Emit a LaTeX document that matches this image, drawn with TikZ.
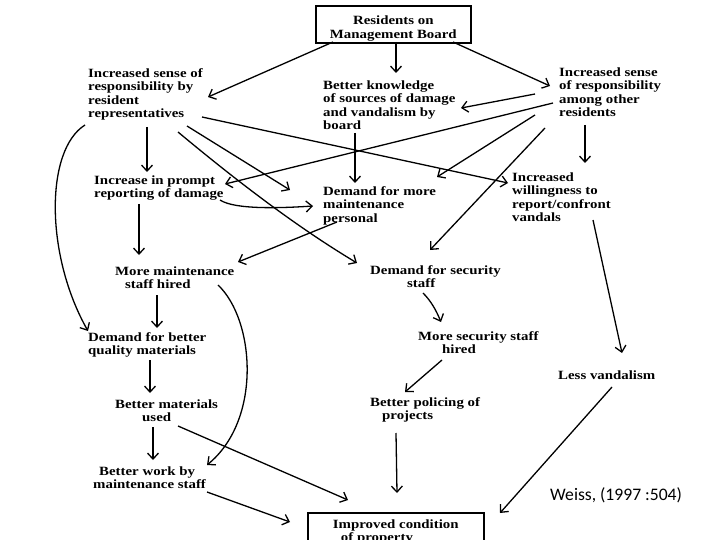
\documentclass[tikz,border=0pt]{standalone}
\usepackage{fontspec}
\newfontfamily\reffont[FakeStretch=1.18]{Liberation Serif}
\newfontfamily\citefont{Carlito}
\usetikzlibrary{arrows.meta,calc}
\begin{document}
\begin{tikzpicture}[x=1pt,y=-1pt,
  lbl/.style={font=\reffont\fontsize{12.6}{13.3}\selectfont\bfseries, align=left, inner sep=0pt, anchor=north west},
  arr/.style={line width=1.3pt, -{Straight Barb[length=6pt,width=11pt]}},
  boxed/.style={draw, line width=1.6pt}]
\useasboundingbox (0,0) rectangle (720,540);
% nodes (placed by north west corner, pixel coordinates)
\node[lbl, boxed, minimum width=155pt, minimum height=37pt, align=center] (board) at (315,5)
  {\raisebox{-4.5pt}[\height][\depth]{\begin{tabular}{@{}c@{}}Residents on\\Management Board\end{tabular}}};
\node[lbl] (A) at (88,68.5) {Increased sense of\\responsibility by\\resident\\representatives};
\node[lbl] (B) at (323,80.5) {Better knowledge\\of sources of damage\\and vandalism by\\board};
\node[lbl] (C) at (559,67.5) {Increased sense\\of responsibility\\among other\\residents};
\node[lbl] (D) at (94,175.5) {Increase in prompt\\reporting of damage};
\node[lbl] (E) at (323,186.5) {Demand for more\\maintenance\\personal};
\node[lbl] (F) at (512,172.5) {Increased\\willingness to\\report/confront\\vandals};
\node[lbl] (G) at (115,266.5) {More maintenance\\\hspace*{10pt}staff hired};
\node[lbl] (H) at (370,265.5) {Demand for security\\\hspace*{37pt}staff};
\node[lbl] (I) at (88,332.5) {Demand for better\\quality materials};
\node[lbl] (J) at (418,331.5) {More security staff\\\hspace*{24pt}hired};
\node[lbl] (K) at (558,370.5) {Less vandalism};
\node[lbl] (L) at (115,399.5) {Better materials\\\hspace*{27pt}used};
\node[lbl] (M) at (370,397.5) {Better policing of\\\hspace*{12pt}projects};
\node[lbl] (N) at (93,466.5) {\hspace*{6pt}Better work by\\maintenance staff};
\node[lbl, boxed, minimum width=176pt, inner xsep=0pt, inner ysep=6.5pt] (O) at (307,512) {Improved condition\\\hspace*{8pt}of property};
\node[font=\citefont\fontsize{17.6}{20}\selectfont, anchor=west, inner sep=0pt] (cite) at (550,495) {Weiss, (1997 :504)};
% connectors
\draw[arr] ([shift={(333-315,42-5)}]board.north west) -- ([shift={(208-88,97-68.5)}]A.north west);
\draw[arr] ([shift={(396-315,42-5)}]board.north west) -- ([shift={(396-323,73-80.5)}]B.north west);
\draw[arr] ([shift={(453-315,42-5)}]board.north west) -- ([shift={(550-559,86-67.5)}]C.north west);
\draw[arr] ([shift={(535-559,94-67.5)}]C.north west) -- ([shift={(461-323,108-80.5)}]B.north west);
\draw[arr] ([shift={(553-559,103-67.5)}]C.north west) -- ([shift={(225-94,184-175.5)}]D.north west);
\draw[arr] ([shift={(535-559,115-67.5)}]C.north west) -- ([shift={(437-323,177-186.5)}]E.north west);
\draw[arr] ([shift={(545-559,128-67.5)}]C.north west) -- ([shift={(430-370,250-265.5)}]H.north west);
\draw[arr] ([shift={(585-559,125-67.5)}]C.north west) -- ([shift={(585-512,163-172.5)}]F.north west);
\draw[arr] ([shift={(147-88,127-68.5)}]A.north west) -- ([shift={(147-94,172-175.5)}]D.north west);
\draw[arr] ([shift={(187-88,126-68.5)}]A.north west) -- ([shift={(290-323,190-186.5)}]E.north west);
\draw[arr] ([shift={(178-88,132-68.5)}]A.north west) .. controls +(60,50) and +(-60,-36) .. ([shift={(357-370,263-265.5)}]H.north west);
\draw[arr] ([shift={(202-88,117-68.5)}]A.north west) -- ([shift={(508-512,183-172.5)}]F.north west);
\draw[arr] ([shift={(355-323,133-80.5)}]B.north west) -- ([shift={(355-323,183-186.5)}]E.north west);
\draw[arr] ([shift={(220-94,200-175.5)}]D.north west) .. controls +(15,10) and +(-30,2) .. ([shift={(313-323,206-186.5)}]E.north west);
\draw[arr] ([shift={(139-94,204-175.5)}]D.north west) -- ([shift={(139-115,255-266.5)}]G.north west);
\draw[arr] ([shift={(337-323,222-186.5)}]E.north west) -- ([shift={(238-115,262-266.5)}]G.north west);
\draw[arr] ([shift={(85-88,125-68.5)}]A.north west) .. controls +(-40,25) and +(-43,-76) .. ([shift={(88-88,331-332.5)}]I.north west);
\draw[arr] ([shift={(157-115,295-266.5)}]G.north west) -- ([shift={(157-88,328-332.5)}]I.north west);
\draw[arr] ([shift={(218-115,285-266.5)}]G.north west) .. controls +(37,35) and +(55,-45) .. ([shift={(207-93,465-466.5)}]N.north west);
\draw[arr] ([shift={(150-88,360-332.5)}]I.north west) -- ([shift={(150-115,393-399.5)}]L.north west);
\draw[arr] ([shift={(153-115,427-399.5)}]L.north west) -- ([shift={(153-93,460-466.5)}]N.north west);
\draw[arr] ([shift={(178-115,426-399.5)}]L.north west) -- ([shift={(348-307,500-512)}]O.north west);
\draw[arr] ([shift={(207-93,492-466.5)}]N.north west) -- ([shift={(290-307,522-512)}]O.north west);
\draw[arr] ([shift={(423-370,293-265.5)}]H.north west) .. controls +(8,8) and +(-5,-12) .. ([shift={(441-418,322-331.5)}]J.north west);
\draw[arr] ([shift={(442-418,360-331.5)}]J.north west) -- ([shift={(405-370,392-397.5)}]M.north west);
\draw[arr] ([shift={(396-370,433-397.5)}]M.north west) -- ([shift={(397-307,493-512)}]O.north west);
\draw[arr] ([shift={(593-512,220-172.5)}]F.north west) -- ([shift={(622-558,353-370.5)}]K.north west);
\draw[arr] ([shift={(612-558,387-370.5)}]K.north west) -- ([shift={(500-307,513-512)}]O.north west);
\end{tikzpicture}
\end{document}
